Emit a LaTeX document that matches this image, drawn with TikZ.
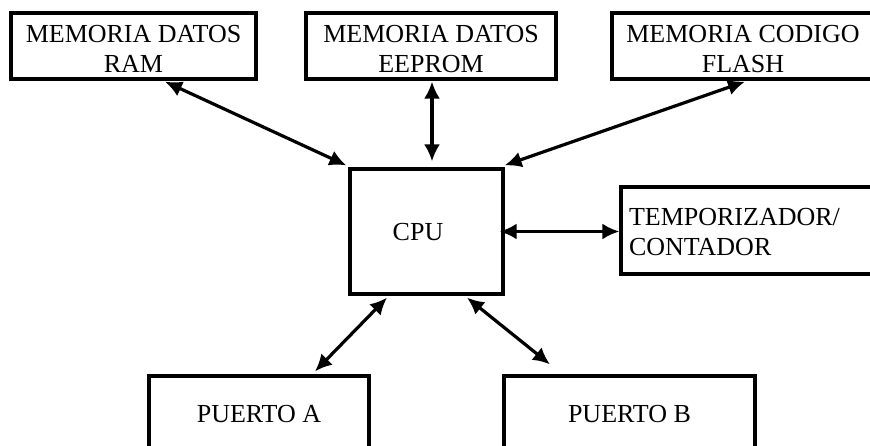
\documentclass[tikz,border=0pt]{standalone}
\usepackage{fontspec}
\setmainfont{Liberation Serif}
\usetikzlibrary{arrows.meta,calc}
\begin{document}
\begin{tikzpicture}[x=1pt,y=-1pt,
  blk/.style={draw=black, line width=3.2pt, fill=white, inner sep=0pt, align=center,
    font=\fontsize{26}{30}\selectfont},
  two/.style={text height=52pt, text depth=0pt},
  one/.style={text height=17pt, text depth=0pt},
  link/.style={line width=3.2pt, {Latex[length=17pt,width=16pt]}-{Latex[length=17pt,width=16pt]}}]
\useasboundingbox (0,0) rectangle (870,445);
\clip (0,0) rectangle (870,445);
\fill[white] (0,0) rectangle (870,445);
\node[blk, two, minimum width=245pt, minimum height=66pt] (ram) at (133.5,46) {MEMORIA DATOS\\RAM};
\node[blk, two, minimum width=250pt, minimum height=66pt] (eeprom) at (431,46) {MEMORIA DATOS\\EEPROM};
\node[blk, two, minimum width=262pt, minimum height=66pt] (flash) at (743,46) {MEMORIA CODIGO\\FLASH};
\node[blk, one, minimum width=153pt, minimum height=125pt] (cpu) at (426.5,231.5) {CPU\hspace{17pt}};
\node[blk, align=left, text height=0pt, text depth=11pt, inner xsep=8pt, text width=243pt, minimum height=87pt] (temp) at (750.5,230.5) {TEMPORIZADOR/\\CONTADOR};
\node[blk, one, minimum width=220pt, minimum height=75pt] (pa) at (259,413.5) {PUERTO A};
\node[blk, one, minimum width=251pt, minimum height=75pt] (pb) at (629.5,413.5) {PUERTO B};
\draw[link] ([xshift=31.5pt,yshift=-1pt]ram.south) -- ([xshift=-2pt,yshift=2pt]cpu.north west);
\draw[link] ([xshift=1pt,yshift=-1pt]eeprom.south) -- ([xshift=5.5pt,yshift=6pt]cpu.north);
\draw[link] ([xshift=2pt,yshift=-1pt]flash.south) -- ([xshift=0pt,yshift=2pt]cpu.north east);
\draw[link] ([xshift=-5pt]cpu.east) -- (cpu.east -| temp.west);
\draw[link] ([xshift=-39.5pt,yshift=-2pt]cpu.south) -- ([xshift=56pt,yshift=3pt]pa.north);
\draw[link] ([xshift=40.5pt,yshift=-2pt]cpu.south) -- ([xshift=-79.5pt,yshift=10pt]pb.north);
\end{tikzpicture}
\end{document}
